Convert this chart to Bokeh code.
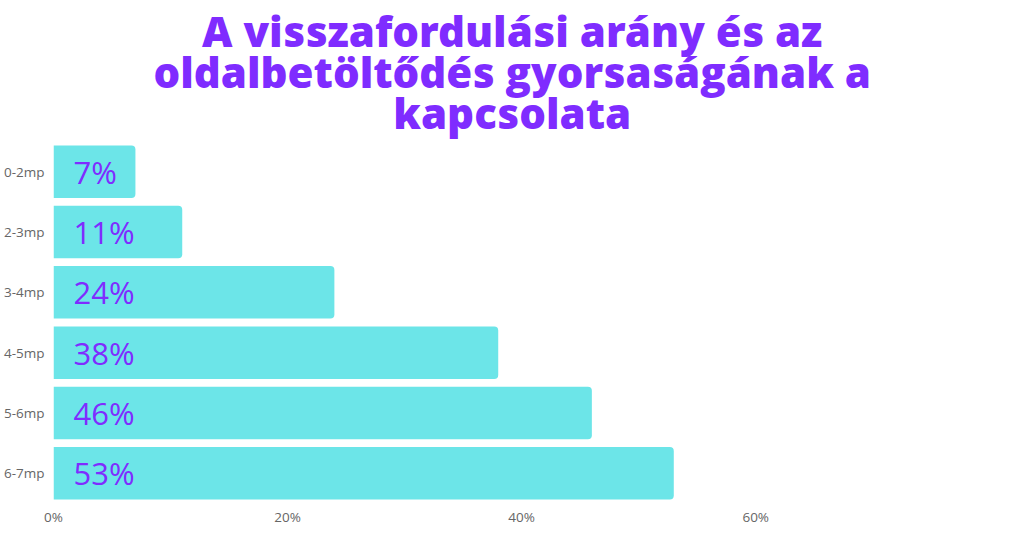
from bokeh.plotting import figure
from bokeh.models import ColumnDataSource, FixedTicker, Title, Range1d, FactorRange
from bokeh.core.properties import value
from bokeh.embed import file_html
from bokeh.resources import INLINE

categories = ["0-2mp", "2-3mp", "3-4mp", "4-5mp", "5-6mp", "6-7mp"]
bounce_rates = [7, 11, 24, 38, 46, 53]
bar_labels = ["7%", "11%", "24%", "38%", "46%", "53%"]
x_ticks = [0, 20, 40, 60]
x_tick_labels = {0: "0%", 20: "20%", 40: "40%", 60: "60%"}
title_text = "A visszafordulási arány és az\noldalbetöltődés gyorsaságának a\nkapcsolata"

PURPLE = "#7f2cff"
CYAN = "#6ce5e8"

source = ColumnDataSource(dict(cat=categories, val=bounce_rates, lab=bar_labels,
                               zero=[0] * len(categories)))

p = figure(width=1008, height=528, output_backend="svg", toolbar_location=None,
           y_range=FactorRange(*reversed(categories), range_padding=0),
           x_range=Range1d(0, 81.6),
           min_border_left=45, min_border_right=0, min_border_bottom=0, min_border_top=0)
p.title = None

t = Title(text=title_text, align="left", text_font="'Open Sans ExtraBold', 'Open Sans'",
          text_font_style="bold", text_font_size="42px", text_color=PURPLE,
          text_line_height=0.72, offset=100, standoff=0)
t.text_align = "center"
p.add_layout(t, "above")

p.hbar(y="cat", right="val", left=0, height=0.87, source=source, color=CYAN,
       line_color=None, border_radius=(0, 4, 4, 0))
p.text(x="zero", y="cat", text="lab", source=source, x_offset=20,
       text_baseline="middle", text_align="left", text_color=PURPLE,
       text_font=value("Open Sans"), text_font_size="31px")

p.outline_line_color = None
p.xgrid.visible = False
p.ygrid.visible = False
for ax in (p.xaxis, p.yaxis):
    ax.axis_line_color = None
    ax.major_tick_line_color = None
    ax.minor_tick_line_color = None
    ax.major_tick_out = 0
    ax.major_tick_in = 0
    ax.minor_tick_out = 0
    ax.minor_tick_in = 0
    ax.axis_label_standoff = 0
    ax.axis_label_text_font_size = "0px"
    ax.major_label_text_font = "Open Sans"
    ax.major_label_text_font_size = "13.5px"
    ax.major_label_text_color = "#666666"
p.xaxis.ticker = FixedTicker(ticks=x_ticks)
p.xaxis.major_label_overrides = x_tick_labels
p.xaxis.major_label_standoff = 4
p.yaxis.major_label_standoff = 9

open("out.html", "w").write(file_html(p, INLINE))
